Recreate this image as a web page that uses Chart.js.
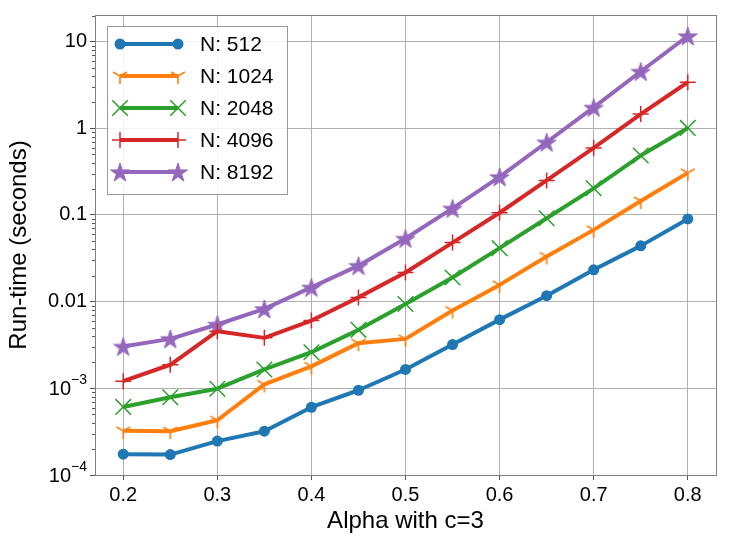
<!DOCTYPE html>
<html><head><meta charset="utf-8">
<script src="https://cdn.jsdelivr.net/npm/chart.js@4/dist/chart.umd.min.js"></script>
<style>html,body{margin:0;padding:0;background:#fff;}</style>
</head><body>
<canvas id="c" width="729" height="548"></canvas>
<script>
const alphas = [0.2,0.25,0.3,0.35,0.4,0.45,0.5,0.55,0.6,0.65,0.7,0.75,0.8];
const n512  = [1.74e-4,1.72e-4,2.46e-4,3.2e-4,6.05e-4,9.5e-4,1.65e-3,3.2e-3,6.2e-3,0.0117,0.0233,0.044,0.09];
const n1024 = [3.23e-4,3.2e-4,4.28e-4,1.11e-3,1.79e-3,3.32e-3,3.72e-3,7.9e-3,0.0156,0.0332,0.0673,0.145,0.306];
const n2048 = [6.1e-4,7.9e-4,9.9e-4,1.65e-3,2.61e-3,4.73e-3,9.4e-3,0.019,0.0414,0.0916,0.203,0.485,1.01];
const n4096 = [1.21e-3,1.87e-3,4.56e-3,3.82e-3,6.05e-3,0.0112,0.0217,0.048,0.106,0.25,0.594,1.46,3.4];
const n8192 = [3.04e-3,3.72e-3,5.45e-3,8.24e-3,0.0146,0.026,0.0535,0.119,0.275,0.69,1.74,4.52,11.6];
const seriesNames = ['N: 512','N: 1024','N: 2048','N: 4096','N: 8192'];
const xTicks = [0.2,0.3,0.4,0.5,0.6,0.7,0.8];
const xTickLabels = ['0.2','0.3','0.4','0.5','0.6','0.7','0.8'];
const yTicks = [1e-4,1e-3,0.01,0.1,1,10];
const yTickLabels = ['10^\u22124','10^\u22123','0.01','0.1','1','10'];
const xTitle = 'Alpha with c=3';
const yTitle = 'Run-time (seconds)';

const FONT = "'Liberation Sans', Arial, sans-serif";
const colors = ['#1f77b4','#ff7f0e','#2ca02c','#d62728','#9467bd'];

function makeTriDown(color, r) {
  const s = Math.ceil(2*r+4);
  const c = document.createElement('canvas'); c.width = s; c.height = s;
  const g = c.getContext('2d'); const cx = s/2, cy = s/2;
  g.strokeStyle = color; g.lineWidth = 1.6;
  g.beginPath();
  g.moveTo(cx,cy); g.lineTo(cx, cy + r);
  g.moveTo(cx,cy); g.lineTo(cx - 0.866*r, cy - 0.5*r);
  g.moveTo(cx,cy); g.lineTo(cx + 0.866*r, cy - 0.5*r);
  g.stroke();
  return c;
}
function makeStar(color, r) {
  const s = Math.ceil(2*r+4);
  const c = document.createElement('canvas'); c.width = s; c.height = s;
  const g = c.getContext('2d'); const cx = s/2, cy = s/2 + r*0.1;
  const ri = r*0.381966;
  g.fillStyle = color; g.strokeStyle = color; g.lineWidth = 1;
  g.beginPath();
  for (let i = 0; i < 10; i++) {
    const rr = i % 2 === 0 ? r : ri;
    const a = -Math.PI/2 + i*Math.PI/5;
    const px = cx + rr*Math.cos(a), py = cy + rr*Math.sin(a);
    if (i === 0) g.moveTo(px,py); else g.lineTo(px,py);
  }
  g.closePath(); g.fill(); g.stroke();
  return c;
}

const triImg = makeTriDown(colors[1], 8);
const starImg = makeStar(colors[4], 10);

const seriesValues = [n512,n1024,n2048,n4096,n8192];
const pointStyles = ['circle', triImg, 'crossRot', 'cross', starImg];
const pointRadii = [5.5, 8, 11, 8, 10];
const pointBorderWidths = [0, 1.6, 1.5, 1.5, 0];

const datasets = seriesValues.map((vals, i) => ({
  label: seriesNames[i],
  data: alphas.map((a, j) => ({x: a, y: vals[j]})),
  borderColor: colors[i],
  backgroundColor: colors[i],
  pointBackgroundColor: colors[i],
  pointBorderColor: colors[i],
  borderWidth: 4,
  borderJoinStyle: 'round',
  borderCapStyle: 'butt',
  pointStyle: pointStyles[i],
  pointRadius: pointRadii[i],
  pointHoverRadius: pointRadii[i],
  pointBorderWidth: pointBorderWidths[i],
  tension: 0,
  fill: false
}));

const framePlugin = {
  id: 'frame',
  beforeDatasetsDraw(chart) {
    const {ctx, chartArea: a, scales} = chart;
    const y = scales.y;
    ctx.save();
    ctx.strokeStyle = '#555'; ctx.lineWidth = 1;
    for (let e = -4; e <= 1; e++) {
      for (let k = 2; k <= 9; k++) {
        const v = k * Math.pow(10, e);
        if (v < y.min || v > y.max) continue;
        const py = Math.round(y.getPixelForValue(v)) + 0.5;
        ctx.beginPath(); ctx.moveTo(a.left - 3, py); ctx.lineTo(a.left, py); ctx.stroke();
      }
    }
    // superscript tick labels
    ctx.fillStyle = '#000';
    ctx.textBaseline = 'middle';
    yTicks.forEach((v, i) => {
      const lab = yTickLabels[i];
      if (lab.indexOf('^') < 0) return;
      const [base, exp] = lab.split('^');
      const py = y.getPixelForValue(v);
      const xr = a.left - 8;
      ctx.font = '14px ' + FONT;
      const ew = ctx.measureText(exp).width;
      ctx.textAlign = 'right';
      ctx.fillText(exp, xr, py - 8);
      ctx.font = '20px ' + FONT;
      ctx.fillText(base, xr - ew, py + 1);
    });
    ctx.restore();
  },
  afterDraw(chart) {
    const {ctx, chartArea: a} = chart;
    ctx.save();
    ctx.strokeStyle = '#808080'; ctx.lineWidth = 1;
    ctx.strokeRect(Math.round(a.left)+0.5, Math.round(a.top)+0.5, Math.round(a.right-a.left), Math.round(a.bottom-a.top));
    // legend
    const bx = a.left + 12, by = a.top + 11, bw = 180, bh = 168;
    ctx.fillStyle = 'rgba(255,255,255,0.85)';
    ctx.fillRect(bx, by, bw, bh);
    ctx.strokeStyle = '#999'; ctx.lineWidth = 1;
    ctx.strokeRect(bx+0.5, by+0.5, bw, bh);
    chart.data.datasets.forEach((ds, i) => {
      const ly = by + 18 + 32*i;
      const x1 = bx + 13, x2 = bx + 71;
      ctx.strokeStyle = ds.borderColor; ctx.lineWidth = ds.borderWidth;
      ctx.beginPath(); ctx.moveTo(x1, ly); ctx.lineTo(x2, ly); ctx.stroke();
      const opts = {pointStyle: ds.pointStyle, radius: ds.pointRadius, borderWidth: ds.pointBorderWidth, rotation: 0};
      ctx.fillStyle = ds.pointBackgroundColor; ctx.strokeStyle = ds.pointBorderColor; ctx.lineWidth = ds.pointBorderWidth;
      Chart.helpers.drawPoint(ctx, opts, x1, ly);
      ctx.fillStyle = ds.pointBackgroundColor; ctx.strokeStyle = ds.pointBorderColor; ctx.lineWidth = ds.pointBorderWidth;
      Chart.helpers.drawPoint(ctx, opts, x2, ly);
      ctx.fillStyle = '#000';
      ctx.font = '21px ' + FONT;
      ctx.textBaseline = 'middle'; ctx.textAlign = 'left';
      ctx.fillText(ds.label, bx + 93, ly + 1);
    });
    ctx.restore();
  }
};

new Chart(document.getElementById('c'), {
  type: 'line',
  data: {datasets},
  options: {
    responsive: false,
    animation: false,
    devicePixelRatio: 1,
    layout: {padding: {left: 0, top: 13, right: 13, bottom: 0}},
    plugins: {legend: {display: false}, tooltip: {enabled: false}},
    scales: {
      x: {
        type: 'linear', min: 0.17, max: 0.83,
        afterBuildTicks: s => { s.ticks = xTicks.map(v => ({value: v})); },
        afterFit: s => { s.height = 73; },
        grid: {color: '#b0b0b0', lineWidth: 1, tickColor: '#555', tickLength: 5},
        border: {display: false},
        ticks: {autoSkip: false, maxRotation: 0, padding: 3, color: '#000', font: {family: FONT, size: 20},
          callback: (v, i) => xTickLabels[i]},
        title: {display: true, text: xTitle, color: '#000', font: {family: FONT, size: 24}, padding: {top: 0, bottom: 12}}
      },
      y: {
        type: 'logarithmic', min: 1e-4, max: Math.pow(10, 1.307),
        afterBuildTicks: s => { s.ticks = yTicks.map(v => ({value: v, major: true})); },
        afterFit: s => { s.width = 95; },
        grid: {color: '#b0b0b0', lineWidth: 1, tickColor: '#555', tickLength: 5},
        border: {display: false},
        ticks: {autoSkip: false, padding: 3, color: '#000', font: {family: FONT, size: 20},
          callback: (v, i) => (yTickLabels[i].indexOf('^') >= 0 ? '' : yTickLabels[i])},
        title: {display: true, text: yTitle, color: '#000', font: {family: FONT, size: 24}, padding: {top: 5, bottom: 0}}
      }
    }
  },
  plugins: [framePlugin]
});
</script>
</body></html>
